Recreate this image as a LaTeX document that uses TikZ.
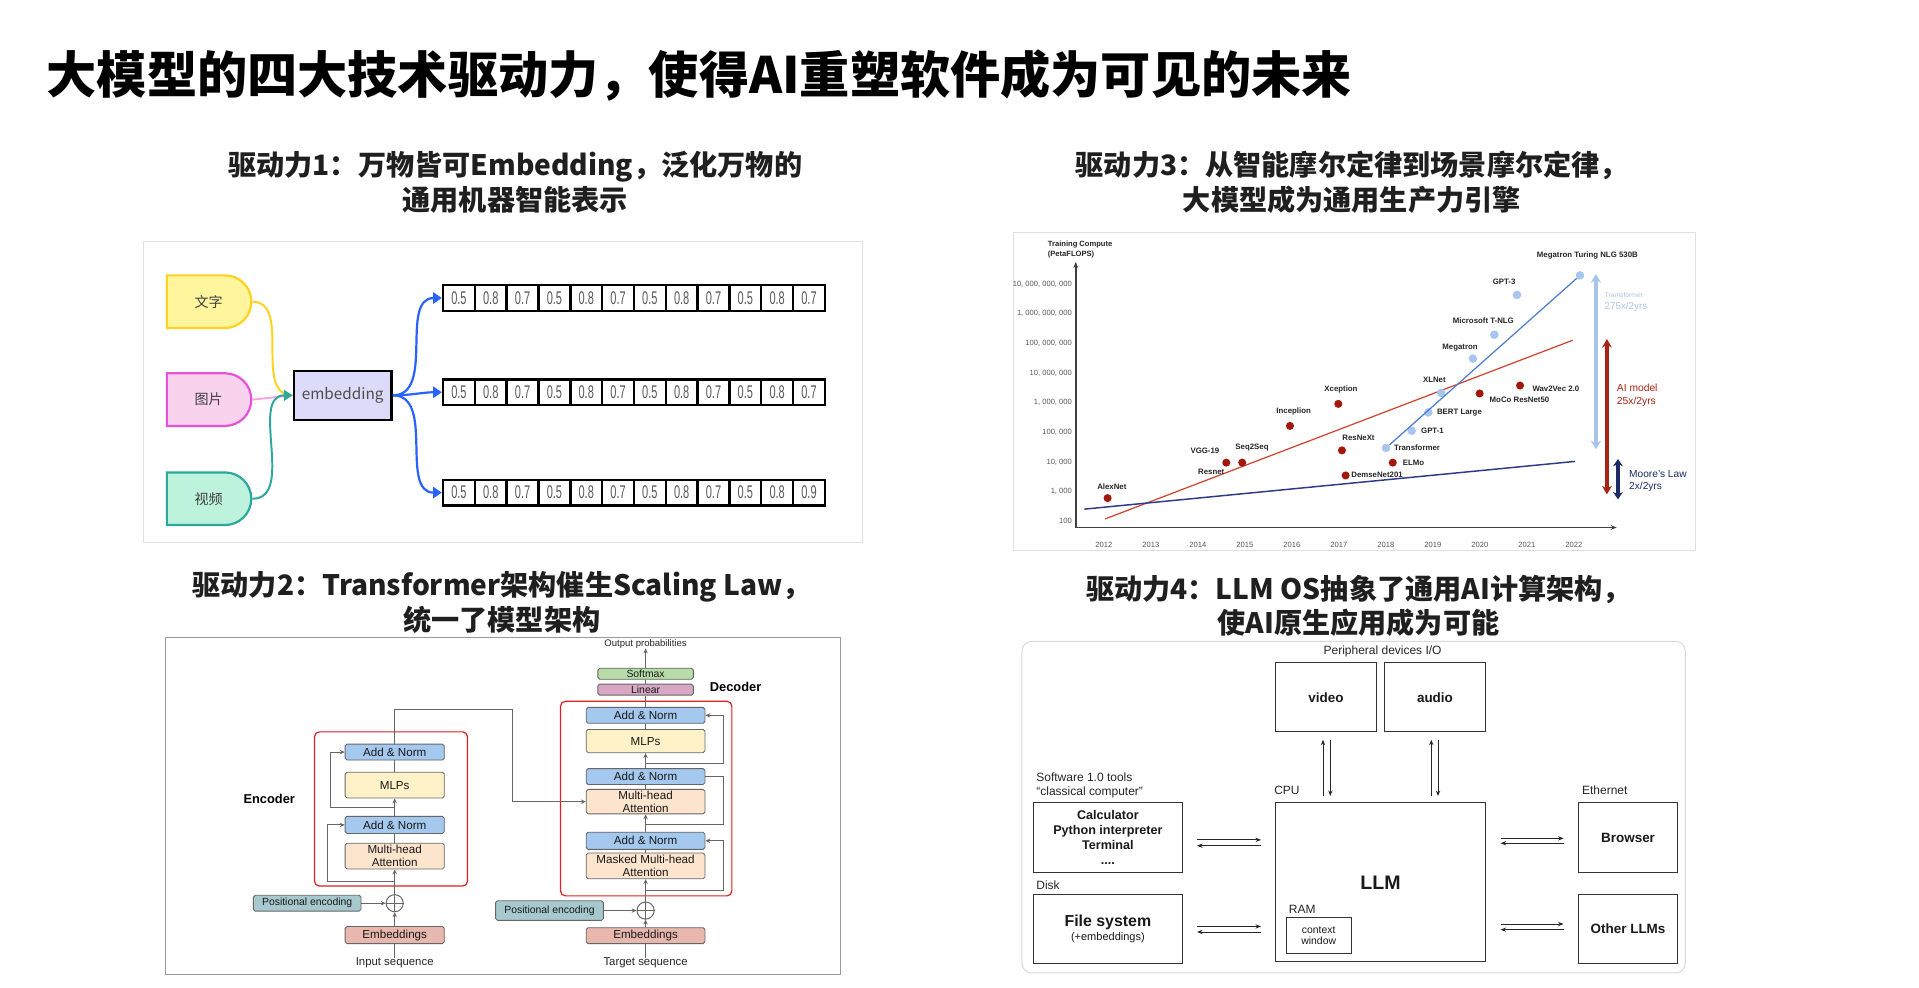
\documentclass[tikz,border=0pt]{standalone}
\usepackage{fontspec}
\setmainfont{Liberation Sans}
\newfontfamily\cjk{Noto Sans CJK SC}
\newfontfamily\narrowf{Liberation Sans}[FakeStretch=0.6]
\usetikzlibrary{arrows.meta,shapes.misc,calc}
\newcommand\fs[2]{\fontsize{#1}{#2}\selectfont}
% panel 1
\definecolor{yelS}{HTML}{FFD21F}\definecolor{yelF}{HTML}{FFF59D}
\definecolor{pinkS}{HTML}{E652D9}\definecolor{pinkF}{HTML}{F9D2EE}\definecolor{pinkL}{HTML}{F7A6E2}
\definecolor{tealS}{HTML}{2EA89E}\definecolor{tealF}{HTML}{BDF2DD}
\definecolor{lavF}{HTML}{DCDCFA}\definecolor{vblue}{HTML}{2962FF}
% panel 2
\definecolor{addc}{HTML}{A4C8EE}\definecolor{mlpc}{HTML}{FFF2C8}\definecolor{attc}{HTML}{FDE4CC}
\definecolor{pec}{HTML}{A7C8CC}\definecolor{embc}{HTML}{E8B7AE}\definecolor{softc}{HTML}{B7DCA8}
\definecolor{linc}{HTML}{D8A7C4}\definecolor{tred}{HTML}{E02020}
% panel 3
\definecolor{dred}{HTML}{A2180C}\definecolor{lblue}{HTML}{A8C5EC}\definecolor{redline}{HTML}{D0432E}
\definecolor{navyline}{HTML}{2D3A8C}\definecolor{bline}{HTML}{4A7DD0}\definecolor{ltb}{HTML}{A9C4EB}
\definecolor{arred}{HTML}{A82314}\definecolor{anavy}{HTML}{1B2A63}
\tikzset{
  panel/.style={draw=black!12, line width=0.8pt},
  subt/.style={align=center, inner sep=0, font=\cjk\bfseries\fs{23}{28.5}, text=black!88},
  shp/.style={rounded rectangle, rounded rectangle left arc=none, minimum width=69pt, minimum height=43pt, line width=1.8pt, font=\cjk\fs{11.5}{13}, text=black!75, inner sep=0},
  cell/.style={draw=black, line width=2pt, fill=white, minimum width=26pt, minimum height=21pt, inner sep=0, font=\narrowf\fs{15}{15}, text=black!65},
  blueA/.style={draw=vblue, line width=1.8pt, -{Triangle[length=7pt,width=9pt]}},
  tb/.style={draw=black!60, line width=0.7pt, rounded corners=1.5pt, inner sep=0, font=\fs{9.5}{10.3}, text=black!90, align=center},
  ttxt/.style={inner sep=0, font=\fs{9.3}{10}, text=black!85},
  tline/.style={draw=black!60, line width=0.8pt},
  tarr/.style={tline, -{Stealth[length=4pt,width=3.6pt]}},
  redbox/.style={draw=tred, line width=1pt, rounded corners=4pt},
  tick/.style={font=\fs{6.2}{7}, text=black!65, inner sep=0},
  clab/.style={font=\bfseries\fs{6.4}{7}, text=black!85, inner sep=0},
  rdot/.style={circle, fill=dred, minimum size=6.6pt, inner sep=0},
  bdot/.style={circle, fill=lblue, minimum size=7pt, inner sep=0},
  ob/.style={draw=black!80, line width=0.8pt, inner sep=0, align=center, text=black!90},
  lab4/.style={font=\fs{9.8}{11.5}, text=black!85, inner sep=0},
  oarr/.style={draw=black!85, line width=0.7pt, -{Stealth[length=4.5pt,width=3.5pt]}}
}
\begin{document}
\begin{tikzpicture}[x=1pt,y=-1pt]
\path[fill=white] (0,0) rectangle (1568,807);
\useasboundingbox (0,0) rectangle (1568,807);

% ---------- title ----------
\node[anchor=west, inner sep=0, font=\cjk\bfseries\fs{41}{48}] (title) at (38,62) {大模型的四大技术驱动力，使得AI重塑软件成为可见的未来};

% ---------- subtitles ----------
\node[subt] (s1) at (421,149) {驱动力1：万物皆可Embedding，泛化万物的\\通用机器智能表示};
\node[subt] (s3) at (1104.5,149) {驱动力3：从智能摩尔定律到场景摩尔定律，\\大模型成为通用生产力引擎};
\node[subt] (s2) at (410,492) {驱动力2：Transformer架构催生Scaling Law，\\统一了模型架构};
\node[subt] (s4) at (1110,495) {驱动力4：LLM OS抽象了通用AI计算架构，\\使AI原生应用成为可能};

% ---------- panel 1 ----------
\draw[panel] (117,197) rectangle (705,443);
\node[shp, draw=yelS, fill=yelF] (t1) at (170.5,246.5) {文字};
\node[shp, draw=pinkS, fill=pinkF] (t2) at (170.5,326.5) {图片};
\node[shp, draw=tealS, fill=tealF] (t3) at (170.5,407.5) {视频};
\node[draw=black, line width=2pt, fill=lavF, minimum width=80pt, minimum height=40pt, inner sep=0, font=\cjk\fs{12.5}{14}, text=black!70] (emb) at (280,323) {embedding};
\draw[yelS, line width=1.6pt] (t1.east) to[out=0,in=180] (emb.west);
\draw[pinkL, line width=1.6pt] (t2.east) -- (emb.west);
\draw[tealS, line width=1.6pt, -{Triangle[length=7pt,width=9pt]}] (t3.east) to[out=0,in=180] (emb.west);
\foreach \r/\yy/\last in {1/243.5/0.7, 2/320.5/0.7, 3/402.5/0.9} {
  \foreach \c/\v in {1/0.5,2/0.8,3/0.7,4/0.5,5/0.8,6/0.7,7/0.5,8/0.8,9/0.7,10/0.5,11/0.8} {
    \node[cell] (r\r-\c) at ({362+26*(\c-0.5)},\yy) {\v};
  }
  \node[cell] (r\r-12) at ({362+26*11.5},\yy) {\last};
}
\draw[blueA] (emb.east) to[out=0,in=180] (r1-1.west);
\draw[blueA] (emb.east) to[out=0,in=180] (r2-1.west);
\draw[blueA] (emb.east) to[out=0,in=180] (r3-1.west);

% ---------- panel 3 (chart) ----------
\draw[panel] (828,190) rectangle (1385,450);
\draw[draw=black!75, line width=1.4pt, {Stealth[length=5pt,width=4pt]}-{Stealth[length=5pt,width=4pt]}] (879,214) -- (879,431) -- (1321,431);
\node[font=\bfseries\fs{6.2}{8}, align=left, anchor=west, inner sep=0, text=black!85] (ylab) at (856,204) {Training Compute\\(PetaFLOPS)};
\foreach \lab [count=\i from 0] in {{10, 000, 000, 000},{1, 000, 000, 000},{100, 000, 000},{10, 000, 000},{1, 000, 000},{100, 000},{10, 000},{1, 000},{100}}
  \node[tick, anchor=east] at (876,{232+24.25*\i}) {\lab};
\foreach \yr [count=\i from 0] in {2012,2013,2014,2015,2016,2017,2018,2019,2020,2021,2022}
  \node[tick] at ({902+38.4*\i},445) {\yr};
\draw[redline, line width=1pt] (903,424) -- (1285,278);
\draw[navyline, line width=1.2pt] (886,416) -- (1287,377);
% dots
\node[rdot] (dAlex) at (905,407) {};
\node[rdot] (dVGG) at (1002,378) {};
\node[rdot] (dSeq) at (1015,378) {};
\node[rdot] (dInc) at (1054,348) {};
\node[rdot] (dXce) at (1093.5,330) {};
\node[rdot] (dRNX) at (1096.5,368) {};
\node[rdot] (dDen) at (1099.5,388.5) {};
\node[rdot] (dELMo) at (1138,378) {};
\node[rdot] (dMoCo) at (1209,321.5) {};
\node[rdot] (dWav) at (1242,315) {};
\node[bdot] (dTr) at (1132.5,366) {};
\node[bdot] (dGPT1) at (1153.5,352) {};
\node[bdot] (dBERT) at (1167,337) {};
\node[bdot] (dXL) at (1177.5,321) {};
\node[bdot] (dMeg) at (1203.5,293) {};
\node[bdot] (dTNLG) at (1221,273.5) {};
\node[bdot] (dGPT3) at (1239.5,241) {};
\node[bdot] (dMT) at (1291,225) {};
\draw[bline, line width=1pt] (dTr) -- (dMT);
% labels
\node[clab] at (908.5,397.3) {AlexNet};
\node[clab] at (984.5,368.2) {VGG-19};
\node[clab] at (1023,366) {Seq2Seq};
\node[clab] at (989.7,385.6) {Resnet};
\node[clab] at (1057,336.6) {Inceplion};
\node[clab] at (1095.7,318) {Xception};
\node[clab] at (1110,358) {ResNeXt};
\node[clab, anchor=west] at (1104,388) {DemseNet201};
\node[clab, anchor=west] at (1146,378) {ELMo};
\node[clab, anchor=west] at (1139,366) {Transformer};
\node[clab, anchor=west] at (1161,352) {GPT-1};
\node[clab, anchor=west] at (1174,337) {BERT Large};
\node[clab] at (1172,310) {XLNet};
\node[clab] at (1193,284) {Megatron};
\node[clab] at (1212,262) {Microsoft T-NLG};
\node[clab] at (1229,230) {GPT-3};
\node[clab] at (1297,209) {Megatron Turing NLG 530B};
\node[clab, anchor=west] at (1217,327) {MoCo ResNet50};
\node[clab, anchor=west] at (1252,318) {Wav2Vec 2.0};
% growth arrows
\draw[ltb, line width=3.6pt, {Stealth[length=7pt,width=8.5pt]}-{Stealth[length=7pt,width=8.5pt]}] (1304,224) -- (1304,367);
\draw[arred, line width=3.2pt, {Stealth[length=7pt,width=8pt]}-{Stealth[length=7pt,width=8pt]}] (1313,277) -- (1313,404);
\draw[anavy, line width=3.2pt, {Stealth[length=6pt,width=8pt]}-{Stealth[length=6pt,width=8pt]}] (1322,375) -- (1322,408);
\node[anchor=west, inner sep=0, font=\fs{5.5}{6}, text=ltb] at (1311,241) {Tramsformer};
\node[anchor=west, inner sep=0, font=\fs{8}{9}, text=ltb] at (1311,250.5) {275x/2yrs};
\node[anchor=west, inner sep=0, font=\fs{8.4}{10}, text=arred, align=left] at (1321,323) {AI model\\25x/2yrs};
\node[anchor=west, inner sep=0, font=\fs{8.3}{10}, text=anavy, align=left] at (1331,393) {Moore's Law\\2x/2yrs};

% ---------- panel 2 (transformer) ----------
\draw[draw=black!40, line width=0.8pt] (135,521) rectangle (687,796);
\draw[redbox] (257,598) rectangle (382,724);
\draw[redbox] (458,573) rectangle (598,732);
% encoder
\node[tb, fill=addc, minimum width=81pt, minimum height=13pt] (eAN2) at (322.5,614.5) {Add \& Norm};
\node[tb, fill=mlpc, minimum width=81pt, minimum height=21pt] (eMLP) at (322.5,641.5) {MLPs};
\node[tb, fill=addc, minimum width=81pt, minimum height=14pt] (eAN1) at (322.5,674) {Add \& Norm};
\node[tb, fill=attc, minimum width=81pt, minimum height=21pt] (eMHA) at (322.5,699.5) {Multi-head\\Attention};
\node[tb, fill=pec, minimum width=88pt, minimum height=13pt, font=\fs{8.5}{9}] (ePE) at (251,738) {Positional encoding};
\node[circle, draw=black!60, line width=0.8pt, minimum size=14pt, inner sep=0] (ePlus) at (322.5,738) {};
\node[tb, fill=embc, minimum width=81pt, minimum height=14pt] (eEmb) at (322.5,764) {Embeddings};
\node[ttxt] (eIn) at (322.5,787) {Input sequence};
\node[inner sep=0, font=\bfseries\fs{10.5}{12}] (encl) at (220,653) {Encoder};
% decoder
\node[tb, fill=softc, minimum width=78pt, minimum height=9pt, font=\fs{8.5}{9}] (soft) at (527.5,550.5) {Softmax};
\node[tb, fill=linc, minimum width=78pt, minimum height=9pt, font=\fs{8.5}{9}] (lin) at (527.5,563.5) {Linear};
\node[tb, fill=addc, minimum width=97pt, minimum height=13pt] (dAN3) at (527.5,584.5) {Add \& Norm};
\node[tb, fill=mlpc, minimum width=97pt, minimum height=19pt] (dMLP) at (527.5,605.5) {MLPs};
\node[tb, fill=addc, minimum width=97pt, minimum height=13pt] (dAN2) at (527.5,634.5) {Add \& Norm};
\node[tb, fill=attc, minimum width=97pt, minimum height=20pt] (dMHA) at (527.5,655) {Multi-head\\Attention};
\node[tb, fill=addc, minimum width=97pt, minimum height=14pt] (dAN1) at (527.5,687) {Add \& Norm};
\node[tb, fill=attc, minimum width=97pt, minimum height=21pt] (dMMHA) at (527.5,707.5) {Masked Multi-head\\Attention};
\node[tb, fill=pec, minimum width=88pt, minimum height=16pt, font=\fs{8.5}{9}] (dPE) at (449,744) {Positional encoding};
\node[circle, draw=black!60, line width=0.8pt, minimum size=14pt, inner sep=0] (dPlus) at (527.5,744) {};
\node[tb, fill=embc, minimum width=97pt, minimum height=13pt] (dEmb) at (527.5,764.5) {Embeddings};
\node[ttxt] (dTgt) at (527.5,787) {Target sequence};
\node[inner sep=0, font=\fs{7.8}{9}, text=black!85] (dOut) at (527.5,526) {Output probabilities};
\node[inner sep=0, font=\bfseries\fs{10.5}{12}] (decl) at (601,561) {Decoder};
% plus signs
\draw[tline] (ePlus.north) -- (ePlus.south) (ePlus.west) -- (ePlus.east);
\draw[tline] (dPlus.north) -- (dPlus.south) (dPlus.west) -- (dPlus.east);
% encoder flow
\draw[tline] (eIn) -- (eEmb);
\draw[tarr] (eEmb) -- (ePlus);
\draw[tarr] (ePlus) -- (eMHA);
\draw[tline] (eMHA) -- (eAN1);
\draw[tarr] (eAN1) -- (eMLP);
\draw[tline] (eMLP) -- (eAN2);
\draw[tarr] (ePE.east) -- (ePlus.west);
\coordinate (er1) at ($(ePlus.north)!0.5!(eMHA.south)$);
\coordinate (er2) at ($(eMLP.south)!0.5!(eAN1.north)$);
\draw[tarr] (er1) -| ([xshift=-14pt]eAN1.west) -- (eAN1.west);
\draw[tarr] (er2) -| ([xshift=-12pt]eAN2.west) -- (eAN2.west);
\draw[tarr] (eAN2.north) |- (419,580) |- (dMHA.west);
% decoder flow
\draw[tline] (dTgt) -- (dEmb);
\draw[tarr] (dEmb) -- (dPlus);
\draw[tarr] (dPlus) -- (dMMHA);
\draw[tline] (dMMHA) -- (dAN1);
\draw[tarr] (dAN1) -- (dMHA);
\draw[tline] (dMHA) -- (dAN2);
\draw[tarr] (dAN2) -- (dMLP);
\draw[tline] (dMLP) -- (dAN3);
\draw[tline] (dAN3) -- (lin);
\draw[tline] (lin) -- (soft);
\draw[tarr] (soft) -- (dOut);
\draw[tarr] (dPE.east) -- (dPlus.west);
\coordinate (dr1) at ($(dPlus.north)!0.5!(dMMHA.south)$);
\coordinate (dr2) at ($(dAN1.north)!0.4!(dMHA.south)$);
\coordinate (dr3) at ($(dAN2.north)!0.3!(dMLP.south)$);
\draw[tarr] (dr1) -| ([xshift=15pt]dAN1.east) -- (dAN1.east);
\draw[tline] (dr2) -| ([xshift=15pt]dAN2.east) -- (dAN2.east);
\draw[tarr] (dr3) -| ([xshift=15pt]dAN3.east) -- (dAN3.east);

% ---------- panel 4 (LLM OS) ----------
\draw[draw=black!15, line width=0.8pt, rounded corners=8pt] (835,524) rectangle (1377,795);
\node[ob, minimum width=82pt, minimum height=56.5pt, font=\bfseries\fs{11}{12}] (video) at (1083.5,569.75) {video};
\node[ob, minimum width=82pt, minimum height=56.5pt, font=\bfseries\fs{11}{12}] (audio) at (1172.5,569.75) {audio};
\node[ob, minimum width=172pt, minimum height=130pt, font=\bfseries\fs{16}{18}] (llm) at (1128,721) {LLM};
\node[ob, minimum width=53pt, minimum height=29pt, font=\fs{8.5}{9.5}] (ctx) at (1077.5,764.5) {context\\window};
\node[ob, minimum width=121.5pt, minimum height=56.5pt, font=\bfseries\fs{10.3}{12.5}] (calc) at (905.25,684.25) {Calculator\\Python interpreter\\Terminal\\....};
\node[ob, minimum width=121.5pt, minimum height=56pt] (fsys) at (905.25,759) {{\bfseries\fs{13}{13}File system}\\{\fs{9}{13}(+embeddings)}};
\node[ob, minimum width=81.5pt, minimum height=56.5pt, font=\bfseries\fs{11}{12}] (browser) at (1330.25,684.25) {Browser};
\node[ob, minimum width=81.5pt, minimum height=56pt, font=\bfseries\fs{11}{12}] (other) at (1330.25,759) {Other LLMs};
\node[lab4] (perl) at (1129.7,532) {Peripheral devices I/O};
\node[lab4, anchor=west] (cpul) at (1041,646) {CPU};
\node[lab4, anchor=west] (raml) at (1053,743) {RAM};
\node[lab4, anchor=west, align=left] (swl) at (846.6,642) {Software 1.0 tools\\“classical computer”};
\node[lab4, anchor=west] (diskl) at (846.6,723) {Disk};
\node[lab4, anchor=west] (ethl) at (1292.5,646) {Ethernet};
\draw[oarr] ($(video.south)+(-2.5,52)$) -- ($(video.south)+(-2.5,6)$);
\draw[oarr] ($(video.south)+(3.5,6)$) -- ($(video.south)+(3.5,52)$);
\draw[oarr] ($(audio.south)+(-3,52)$) -- ($(audio.south)+(-3,6)$);
\draw[oarr] ($(audio.south)+(2.5,6)$) -- ($(audio.south)+(2.5,52)$);
\draw[oarr] ($(calc.east)+(11.7,2)$) -- ($(calc.east)+(64,2)$);
\draw[oarr] ($(calc.east)+(64,6.75)$) -- ($(calc.east)+(11.7,6.75)$);
\draw[oarr] ($(fsys.east)+(11.7,-2)$) -- ($(fsys.east)+(64,-2)$);
\draw[oarr] ($(fsys.east)+(64,2.5)$) -- ($(fsys.east)+(11.7,2.5)$);
\draw[oarr] ($(browser.west)+(-63,0.75)$) -- ($(browser.west)+(-11.5,0.75)$);
\draw[oarr] ($(browser.west)+(-11.5,4.75)$) -- ($(browser.west)+(-63,4.75)$);
\draw[oarr] ($(other.west)+(-63,-4)$) -- ($(other.west)+(-11.5,-4)$);
\draw[oarr] ($(other.west)+(-11.5,0.6)$) -- ($(other.west)+(-63,0.6)$);
\end{tikzpicture}
\end{document}
